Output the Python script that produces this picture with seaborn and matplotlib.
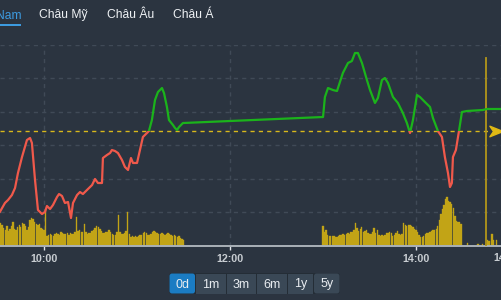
import numpy as np
import pandas as pd
import matplotlib
matplotlib.use("Agg")
import matplotlib.pyplot as plt
import seaborn as sns
from matplotlib.patches import Rectangle, FancyBboxPatch
from matplotlib.path import Path
from matplotlib.transforms import IdentityTransform

# ---------------- data ----------------
tabs = ["Việt Nam", "Châu Mỹ", "Châu Âu", "Châu Á"]
range_buttons = ["0d", "1m", "3m", "6m", "1y", "5y"]
x_tick_minutes = [600, 720, 840]
x_tick_labels = ["10:00", "12:00", "14:00"]
last_tick_label = "14:59"

# price trace (minutes since midnight, index value)
price_minutes = [571.6, 574.8, 576.8, 579.3, 581.3, 583.2, 585.8, 589.0, 591.0, 592.2,
                 594.2, 596.1, 598.7, 600.6, 601.9, 603.9, 605.8, 608.4, 609.7, 611.6,
                 613.5, 615.5, 617.4, 618.7, 621.3, 623.2, 625.1, 627.7, 631.0, 632.9,
                 634.8, 637.4, 638.0, 640.6, 642.6, 643.8, 645.8, 647.7, 650.3, 652.2,
                 654.2, 656.1, 657.4, 660.0, 661.9, 663.8, 666.4, 667.7, 669.6, 671.6,
                 673.5, 676.1, 677.4, 679.3, 680.6, 683.2, 684.5, 685.8, 687.1, 689.6,
                 780.0, 781.2, 783.2, 786.4, 789.0, 790.9, 792.8, 796.1, 798.6, 800.6,
                 802.5, 805.1, 808.3, 810.3, 813.5, 815.4, 818.0, 819.9, 821.9, 825.1,
                 828.3, 831.5, 834.1, 836.1, 838.0, 840.6, 842.5, 845.7, 849.0, 850.9,
                 854.1, 856.7, 858.6, 860.6, 861.9, 863.1, 863.8, 865.7, 867.7, 869.6,
                 872.8, 883.1, 885.7, 894.1]
price_values = [1000.04, 1001.35, 1001.80, 1002.54, 1003.59, 1005.84, 1008.23, 1010.78, 1011.08, 1010.33,
                1004.79, 1000.30, 999.70, 1000.00, 1000.90, 1000.45, 1001.05, 1002.25, 1002.69, 1002.40,
                1001.35, 1001.50, 999.10, 1001.35, 1002.54, 1002.99, 1002.69, 1003.29, 1004.04, 1004.94,
                1004.34, 1004.34, 1008.08, 1008.53, 1008.83, 1009.28, 1009.13, 1008.83, 1007.78, 1006.74,
                1006.29, 1008.08, 1007.34, 1007.34, 1009.28, 1011.23, 1011.83, 1012.13, 1013.77, 1016.77,
                1017.96, 1018.56, 1017.81, 1015.72, 1013.77, 1013.02, 1012.58, 1012.28, 1012.72, 1013.32,
                1014.22, 1017.21, 1018.56, 1018.26, 1018.11, 1019.46, 1020.81, 1022.31, 1022.60, 1023.80,
                1023.80, 1022.31, 1019.76, 1018.26, 1016.32, 1017.07, 1019.76, 1020.06, 1019.31, 1017.22,
                1016.32, 1014.82, 1013.32, 1011.83, 1013.77, 1017.51, 1017.22, 1016.47, 1015.72, 1014.07,
                1012.13, 1011.23, 1008.23, 1005.84, 1003.74, 1004.34, 1008.23, 1009.28, 1012.13, 1014.97,
                1015.12, 1015.27, 1015.42, 1015.42]
reference_price = 1012.13
close_minute = 885          # 14:45 marker
grid_prices = [1000, 1005, 1010, 1015, 1020, 1025]

# volume bars (one per minute)
vol_am_minutes = list(range(572, 691))
vol_am = [23, 21, 18, 16, 20, 15, 17, 20, 24, 17,
          16, 19, 21, 19, 23, 22, 20, 16, 19, 26,
          28, 27, 24, 22, 21, 22, 18, 17, 16, 36,
          10, 11, 12, 11, 10, 12, 13, 12, 11, 14,
          13, 12, 12, 13, 11, 13, 12, 12, 14, 29,
          15, 16, 14, 14, 22, 14, 12, 13, 13, 15,
          16, 18, 20, 19, 17, 15, 13, 13, 14, 14,
          16, 14, 12, 11, 11, 14, 31, 14, 12, 12,
          13, 15, 34, 12, 9, 10, 9, 10, 9, 10,
          11, 11, 13, 14, 13, 11, 11, 12, 14, 15,
          14, 13, 12, 12, 13, 12, 11, 12, 13, 12,
          11, 10, 11, 10, 9, 10, 8, 7, 6]
vol_pm_minutes = list(range(780, 870))
vol_pm = [20, 14, 16, 11, 10, 10, 10, 10, 9, 9,
          10, 11, 11, 12, 11, 12, 13, 12, 14, 14,
          16, 23, 18, 15, 17, 19, 14, 15, 16, 13,
          12, 12, 14, 18, 13, 16, 11, 10, 11, 10,
          11, 13, 13, 14, 13, 10, 11, 13, 15, 12,
          11, 12, 23, 21, 20, 21, 21, 20, 19, 17,
          16, 14, 11, 9, 9, 10, 12, 13, 13, 14,
          15, 16, 16, 17, 20, 26, 32, 37, 41, 47,
          49, 45, 44, 42, 38, 30, 25, 24, 24, 22]
vol_late_minutes = [873, 880, 883, 886, 887, 889, 890, 892]
vol_late = [3, 2, 2, 6, 5, 12, 6, 6]

# ---------------- style ----------------
bg = "#2b3440"
grid_c = "#404a57"
green = "#1bb31b"
red = "#f0594b"
vol_c = "#c2a416"
gold = "#d8b81c"
plt.rcParams["font.family"] = ["Liberation Sans", "DejaVu Sans"]

W, H = 501, 300
fig = plt.figure(figsize=(W / 100, H / 100), dpi=100, facecolor=bg)

def fx(px):
    return px / W

def fy(py):
    return 1 - py / H

ax_top, ax_bot = 45, 246
ax_v = fig.add_axes([0, fy(ax_bot), 1, (ax_bot - ax_top) / H])
ax_v.set_facecolor(bg)
ax_p = ax_v.twinx()

xmin, xmax = 571.61, 894.8
pmin, pmax = 994.91, 1025.0
vmax = ax_bot - ax_top

# volume
vol_df = pd.DataFrame({
    "minute": vol_am_minutes + vol_pm_minutes + vol_late_minutes,
    "volume": vol_am + vol_pm + vol_late,
})
sns.barplot(data=vol_df, x="minute", y="volume", native_scale=True, orient="x",
            color=vol_c, saturation=1, errorbar=None, width=0.9,
            edgecolor=vol_c, linewidth=0.25, ax=ax_v)
ax_v.set_xlim(xmin, xmax)
ax_v.set_ylim(0, vmax)
ax_v.set_xlabel("")
ax_v.set_ylabel("")

# grid (price gridlines expressed on the volume axis positions)
grid_pos = [(g - pmin) / (pmax - pmin) * vmax for g in grid_prices]
ax_v.set_yticks(grid_pos)
ax_v.set_xticks(x_tick_minutes, x_tick_labels)
ax_v.set_axisbelow(True)
ax_v.grid(True, color=grid_c, linestyle=(0, (3, 3)), linewidth=1)
ax_v.tick_params(axis="y", length=0, labelleft=False, labelright=False)
ax_v.tick_params(axis="x", colors="#e2e6ea", length=3, width=1, pad=2.4,
                 labelsize=7.7, labelcolor="#c8cdd2")
for lbl in ax_v.get_xticklabels():
    lbl.set_fontweight("bold")
for s in ["top", "left", "right"]:
    ax_v.spines[s].set_visible(False)
ax_v.spines["bottom"].set_color("#aab1b8")
ax_v.spines["bottom"].set_linewidth(1.4)

# price
ax_p.set_xlim(xmin, xmax)
ax_p.set_ylim(pmin, pmax)
price_df = pd.DataFrame({"minute": price_minutes, "price": price_values})
sns.lineplot(data=price_df, x="minute", y="price", color=green, linewidth=1.6, ax=ax_p, zorder=3)
sns.lineplot(data=price_df, x="minute", y="price", color=red, linewidth=1.6, ax=ax_p, zorder=3)
lines = ax_p.get_lines()
up = Rectangle((xmin - 10, reference_price), xmax - xmin + 20, 100, transform=ax_p.transData)
dn = Rectangle((xmin - 10, reference_price - 100), xmax - xmin + 20, 100, transform=ax_p.transData)
lines[0].set_clip_path(up)
lines[1].set_clip_path(dn)

ax_p.axhline(reference_price, xmax=490 / W, color=gold, linewidth=1.0,
             linestyle=(0, (3, 3)), zorder=2)
ax_p.axvline(close_minute, ymax=(ax_bot - 58) / (ax_bot - ax_top), color="#b3961a",
             linewidth=1.3, zorder=2)
arrow = Path([(-1, 0.8), (1, 0), (-1, -0.8), (-0.45, 0), (-1, 0.8)],
             [Path.MOVETO, Path.LINETO, Path.LINETO, Path.LINETO, Path.CLOSEPOLY])
ax_p.plot([xmin + 496 * (xmax - xmin) / W], [reference_price], marker=arrow,
          markersize=9.5, color="#e0b914", linestyle="none", clip_on=False, zorder=4)
ax_p.set_xlabel("")
ax_p.set_ylabel("")
ax_p.tick_params(right=False, labelright=False)
for s in ax_p.spines.values():
    s.set_visible(False)

fig.text(fx(493), fy(261), last_tick_label, ha="left", va="baseline",
         fontsize=7.7, fontweight="bold", color="#c8cdd2")

# ---------------- tabs ----------------
tab_x = [21, 39, 107, 173]
for i, (t, x) in enumerate(zip(tabs, tab_x)):
    if i == 0:
        fig.text(fx(x), fy(18.3), t, ha="right", va="baseline", fontsize=8.7,
                 color="#3d9be0")
    else:
        fig.text(fx(x), fy(18.3), t, ha="left", va="baseline", fontsize=8.7,
                 color="#eef1f4")
fig.add_artist(Rectangle((0, H - 26.3), 20.7, 2.4, transform=IdentityTransform(),
                         facecolor="#3d9be0", edgecolor="none"))

# ---------------- range buttons ----------------
btn_edges = [169, 195.5, 226.5, 256.5, 287.5, 313.5, 340]
by0, by1 = 273, 294
fig.add_artist(FancyBboxPatch((btn_edges[0], H - by1), btn_edges[-1] - btn_edges[0], by1 - by0,
                              boxstyle="round,pad=0,rounding_size=3",
                              transform=IdentityTransform(), facecolor="#242d36",
                              edgecolor="none"))
for i, lab in enumerate(range_buttons):
    x0, x1 = btn_edges[i] + 0.5, btn_edges[i + 1] - 0.5
    fc = "#1b7cc3" if i == 0 else "#3a4856"
    if i in (0, len(range_buttons) - 1):
        p = FancyBboxPatch((x0, H - by1 + 0.5), x1 - x0, by1 - by0 - 1,
                           boxstyle="round,pad=0,rounding_size=2.5",
                           transform=IdentityTransform(), facecolor=fc, edgecolor="none")
    else:
        p = Rectangle((x0, H - by1 + 0.5), x1 - x0, by1 - by0 - 1,
                      transform=IdentityTransform(), facecolor=fc, edgecolor="none")
    fig.add_artist(p)
    fig.text(fx((x0 + x1) / 2), fy(287.5), lab, ha="center", va="baseline",
             fontsize=9.0, color="#e8ecf0")

fig.savefig("out.png", dpi=100, facecolor=bg)
